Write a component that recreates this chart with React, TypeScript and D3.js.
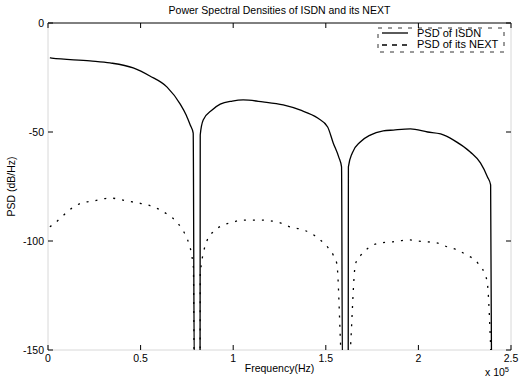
import React from "react";
import * as d3 from "d3";

// values: [frequency (x 1e5 Hz), dB/Hz]
// the -160 points are the spectral nulls, they fall below the axis and get clipped
const isdnPsd: [number, number][] = [
  [0.01, -16], [0.02, -16.1], [0.227, -17.4], [0.335, -18.3], [0.46, -20.6],
  [0.55, -24.3], [0.643, -29.4], [0.714, -37.2], [0.746, -42.2], [0.768, -46.8],
  [0.784, -50.5], [0.79, -160], [0.821, -160], [0.822, -51.4], [0.838, -44.5],
  [0.886, -39.9], [0.93, -37.2], [0.995, -35.8], [1.054, -35.3], [1.16, -36.2],
  [1.27, -37.6], [1.36, -39.9], [1.456, -43.6], [1.51, -47.7], [1.54, -55],
  [1.57, -61.5], [1.585, -66], [1.59, -160], [1.621, -160], [1.622, -66],
  [1.643, -59.6], [1.686, -54.6], [1.74, -51.4], [1.81, -49.5], [1.865, -49.1],
  [1.957, -48.6], [2.05, -50], [2.12, -50.9], [2.19, -53.7], [2.28, -59.2],
  [2.335, -64.2], [2.373, -70.6], [2.39, -74.3], [2.395, -160],
];

const nextPsd: [number, number][] = [
  [0.01, -93.5], [0.038, -91.7], [0.13, -84.9], [0.18, -82.6], [0.24, -81.7],
  [0.335, -80.3], [0.43, -81.7], [0.49, -82.6], [0.54, -83.5], [0.595, -85.3],
  [0.65, -88.1], [0.7, -91.7], [0.73, -95.4], [0.75, -98.6], [0.785, -112],
  [0.79, -160], [0.821, -160], [0.822, -115], [0.86, -99.5], [0.89, -95.9],
  [0.946, -92.7], [1.0, -91.3], [1.05, -90.4], [1.146, -90.4], [1.254, -91.7],
  [1.31, -93.6], [1.36, -94.5], [1.416, -96.3], [1.47, -99.5], [1.51, -102.8],
  [1.54, -106.4], [1.56, -110.6], [1.59, -160], [1.621, -160], [1.66, -110.6],
  [1.69, -106.4], [1.73, -103.2], [1.79, -100.9], [1.85, -100.5], [1.95, -99.5],
  [1.995, -100], [2.1, -100.9], [2.16, -102.8], [2.21, -104.1], [2.26, -106.4],
  [2.32, -110], [2.37, -118], [2.395, -160],
];

const xTicks = [0, 0.5, 1, 1.5, 2, 2.5];
const xTickLabels = ["0", "0.5", "1", "1.5", "2", "2.5"];
const yTicks = [0, -50, -100, -150];
const legendLabels = ["PSD of ISDN", "PSD of its NEXT"];

const App = () => {
  const width = 519;
  const height = 380;
  const margin = { top: 23, right: 8, bottom: 30, left: 48 };
  const font = "'Liberation Sans', Arial, Helvetica, sans-serif";

  const x = d3
    .scaleLinear()
    .domain([0, 2.5])
    .range([margin.left, width - margin.right]);
  const y = d3
    .scaleLinear()
    .domain([-150, 0])
    .range([height - margin.bottom, margin.top]);

  const line = d3
    .line<[number, number]>()
    .x((d) => x(d[0]))
    .y((d) => y(d[1]))
    .curve(d3.curveMonotoneX);

  const x0 = x(0);
  const x1 = x(2.5);
  const yTop = y(0);
  const yBot = y(-150);
  const tick = 5;

  return (
    <svg
      width={width}
      height={height}
      style={{ position: "absolute", left: 0, top: 0, background: "#fff" }}
      fontFamily={font}
    >
      <defs>
        <clipPath id="plotArea">
          <rect x={x0} y={yTop} width={x1 - x0} height={yBot - yTop} />
        </clipPath>
      </defs>

      {/* frame: the scan lost most of it except the top edge */}
      <line x1={x0} x2={x1} y1={yTop} y2={yTop} stroke="#000" strokeWidth={1} />
      <line x1={x0} x2={x0} y1={yTop} y2={yBot} stroke="#d8d8d8" strokeWidth={1} />
      <line x1={x1} x2={x1} y1={yTop} y2={yBot} stroke="#d8d8d8" strokeWidth={1} />
      <line x1={x0} x2={x1} y1={yBot} y2={yBot} stroke="#d8d8d8" strokeWidth={1} />

      {/* x ticks, inward on top and bottom */}
      {xTicks.map((t, i) => (
        <g key={"xt" + i}>
          <line x1={x(t)} x2={x(t)} y1={yBot} y2={yBot - tick} stroke="#000" />
          <line x1={x(t)} x2={x(t)} y1={yTop} y2={yTop + tick} stroke="#000" />
          <text x={x(t)} y={yBot + 12} fontSize={10.5} textAnchor="middle">
            {xTickLabels[i]}
          </text>
        </g>
      ))}

      {/* y ticks, inward on left and right */}
      {yTicks.map((t) => (
        <g key={"yt" + t}>
          <line x1={x0} x2={x0 + tick} y1={y(t)} y2={y(t)} stroke="#000" />
          <line x1={x1} x2={x1 - tick} y1={y(t)} y2={y(t)} stroke="#000" />
          <text x={x0 - 4} y={y(t) + 3.5} fontSize={10.5} textAnchor="end">
            {t}
          </text>
        </g>
      ))}

      <g clipPath="url(#plotArea)">
        <path d={line(isdnPsd) ?? ""} fill="none" stroke="#000" strokeWidth={1.3} />
        <path
          d={line(nextPsd) ?? ""}
          fill="none"
          stroke="#000"
          strokeWidth={1.3}
          strokeDasharray="2,7"
        />
      </g>

      {/* legend */}
      <rect
        x={378}
        y={28}
        width={126}
        height={24}
        fill="#fff"
        stroke="#000"
        strokeWidth={0.8}
        strokeDasharray="4,6"
      />
      <line x1={382} x2={408} y1={33} y2={33} stroke="#000" strokeWidth={1.3} />
      <line
        x1={382}
        x2={408}
        y1={45}
        y2={45}
        stroke="#000"
        strokeWidth={1.3}
        strokeDasharray="5,5"
      />
      <text x={417} y={36.5} fontSize={11}>
        {legendLabels[0]}
      </text>
      <text x={417} y={48} fontSize={11}>
        {legendLabels[1]}
      </text>

      {/* titles */}
      <text x={(x0 + x1) / 2} y={14} fontSize={10.5} textAnchor="middle">
        Power Spectral Densities of ISDN and its NEXT
      </text>
      <text x={(x0 + x1) / 2} y={372} fontSize={10.5} textAnchor="middle">
        Frequency(Hz)
      </text>
      <text
        transform={`translate(15,${(yTop + yBot) / 2}) rotate(-90)`}
        fontSize={10.5}
        textAnchor="middle"
      >
        PSD (dB/Hz)
      </text>
      <text x={485} y={376} fontSize={10.5}>
        x 10
        <tspan fontSize={7.5} dy={-4}>
          5
        </tspan>
      </text>
    </svg>
  );
};

export default App;
